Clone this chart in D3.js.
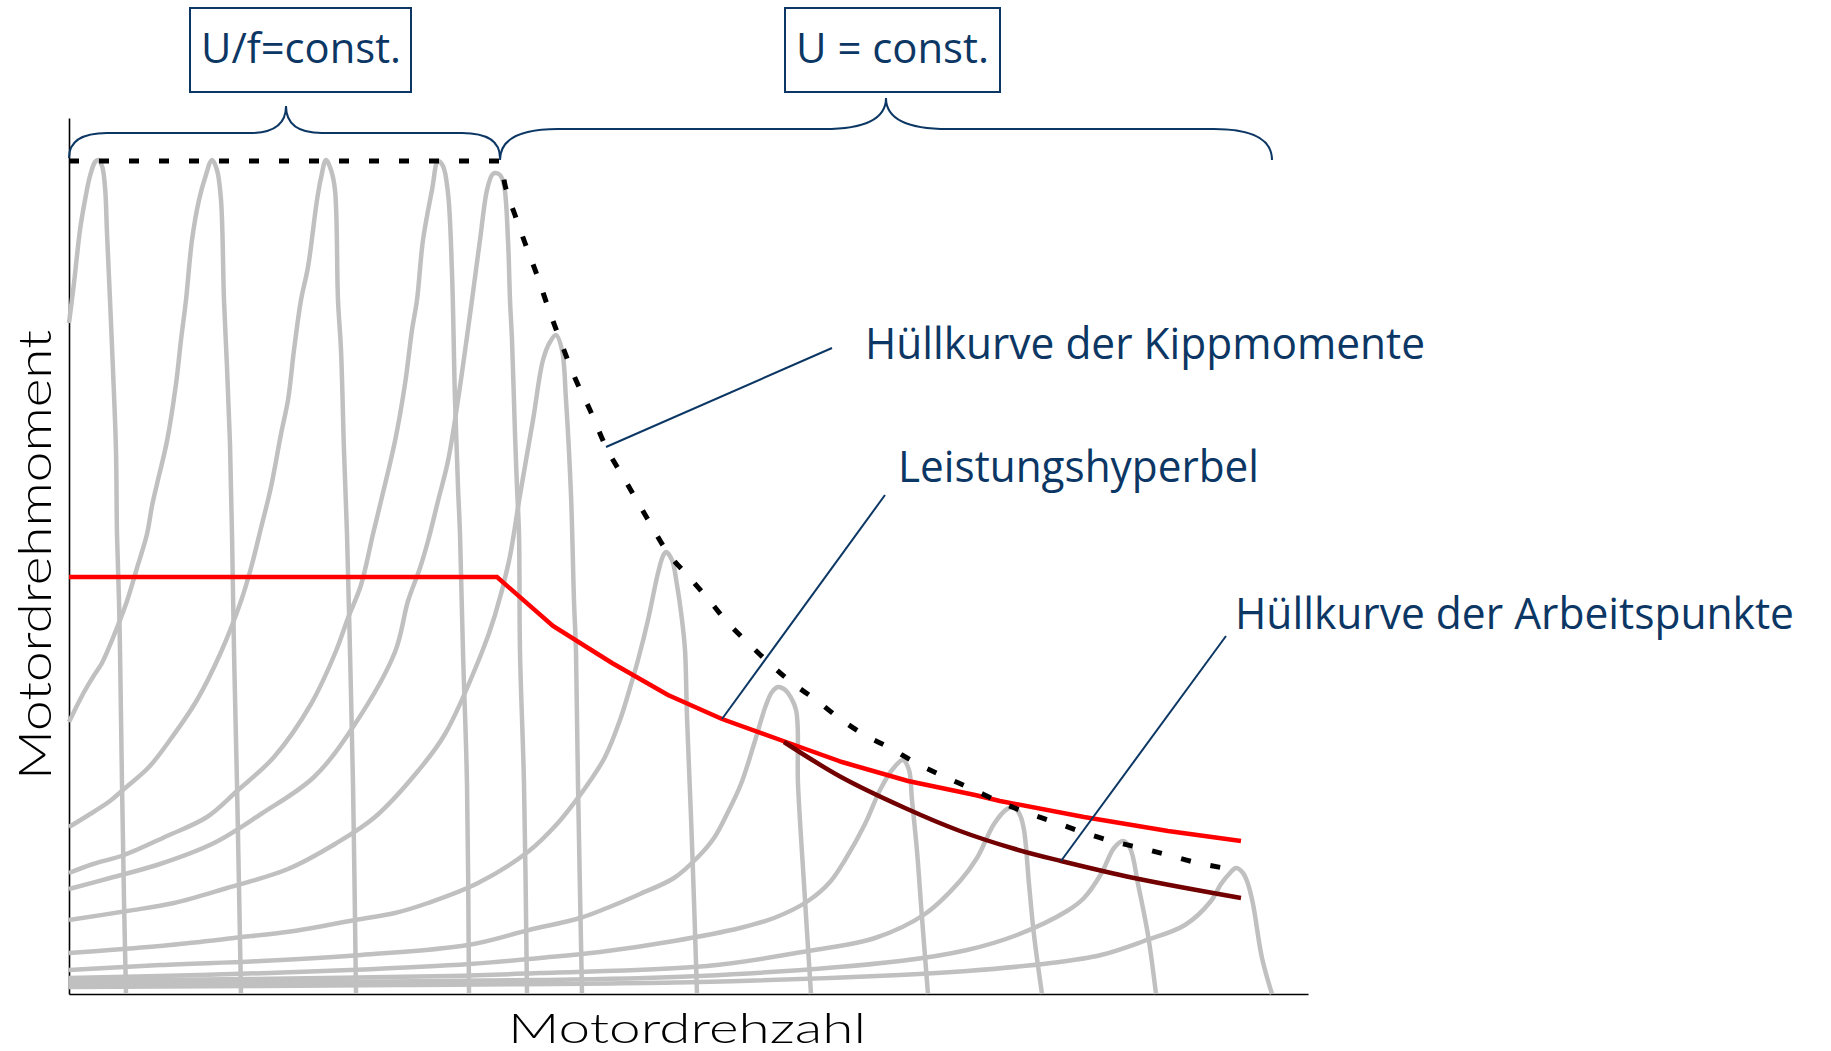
<!DOCTYPE html>
<html>
<head>
<meta charset="utf-8">
<script src="https://cdn.jsdelivr.net/npm/d3@7"></script>
<style>
    html, body { margin: 0; background: #fff; }
    svg { display: block; }
</style>
</head>
<body>
<div id="chart"></div>
<script>
// values: [speed, torque] in arbitrary units (axis = 0..1239 x 0..876)
const torqueCurve1 = [[0,671],[5,711],[11,764],[16,794],[21,818],[26,832],[29,834],[33,828],[36,807],[38,761],[41,694],[44,624],[47,543],[48,460],[50,393],[51,344],[53,210],[55,94],[57,0]];
const torqueCurve2 = [[0,272],[14,300],[24,317],[33,331],[41,349],[51,374],[58,393],[68,426],[78,460],[83,488],[88,510],[98,553],[107,610],[112,654],[117,694],[123,754],[130,794],[136,816],[143,834],[148,824],[152,794],[155,694],[158,627],[161,550],[163,460],[165,344],[168,210],[172,0]];
const torqueCurve3 = [[0,167],[18,178],[41,193],[55,205],[80,227],[101,254],[128,294],[152,342],[172,393],[182,426],[192,466],[202,507],[212,560],[219,594],[225,644],[232,694],[239,727],[248,794],[252,816],[257,834],[262,824],[266,804],[269,694],[272,644],[275,543],[278,460],[281,342],[284,210],[287,0]];
const torqueCurve4 = [[0,121],[24,130],[55,139],[98,158],[138,177],[168,203],[205,237],[242,290],[267,343],[279,376],[292,409],[304,460],[312,493],[326,553],[336,610],[343,664],[348,694],[354,754],[363,804],[369,833],[374,828],[379,801],[383,721],[386,594],[389,507],[391,460],[394,342],[398,210],[400,0]];
const torqueCurve5 = [[0,105],[41,116],[91,130],[145,151],[192,180],[245,217],[286,270],[326,342],[339,393],[351,426],[359,453],[369,493],[379,533],[389,594],[403,694],[411,754],[418,804],[423,819],[426,821],[431,819],[435,809],[439,754],[441,694],[443,654],[446,560],[448,507],[450,460],[451,342],[455,210],[458,0]];
const torqueCurve6 = [[0,74],[58,83],[105,91],[158,106],[219,125],[266,150],[306,177],[349,223],[376,260],[413,342],[426,379],[440,433],[451,499],[464,574],[474,634],[481,652],[487,659],[493,644],[497,594],[502,499],[505,393],[507,342],[509,210],[513,0]];
const torqueCurve7 = [[0,41],[41,44],[101,49],[165,56],[225,63],[286,74],[326,81],[359,91],[409,111],[460,143],[488,170],[505,191],[521,213],[536,237],[551,274],[561,306],[569,334],[579,374],[589,421],[594,438],[597,442],[603,434],[608,409],[613,374],[616,344],[618,277],[622,177],[625,93],[628,0]];
const torqueCurve8 = [[0,24],[91,29],[192,33],[292,39],[399,49],[460,64],[511,76],[538,86],[571,100],[605,116],[628,136],[645,156],[658,180],[672,210],[685,250],[697,289],[703,302],[709,307],[715,305],[719,301],[727,284],[729,210],[735,110],[742,0]];
const torqueCurve9 = [[0,16],[131,19],[281,24],[401,30],[471,36],[531,42],[605,53],[671,66],[705,76],[739,93],[761,112],[776,134],[796,170],[811,204],[823,224],[834,234],[840,224],[843,194],[848,143],[853,76],[859,0]];
const torqueCurve10 = [[0,13],[181,15],[381,18],[471,21],[638,28],[739,43],[806,56],[856,80],[891,113],[908,136],[925,170],[938,185],[945,187],[951,179],[955,164],[960,110],[965,59],[973,0]];
const torqueCurve11 = [[0,10],[231,12],[471,14],[631,18],[831,33],[898,44],[948,59],[998,83],[1015,96],[1032,120],[1045,146],[1054,153],[1061,146],[1069,110],[1079,59],[1087,0]];
const torqueCurve12 = [[0,7],[331,9],[631,12],[831,19],[898,23],[982,31],[1032,39],[1075,53],[1116,69],[1142,93],[1152,110],[1161,121],[1167,126],[1174,121],[1179,110],[1184,90],[1193,36],[1203,0]];
const torqueCurves = [torqueCurve1, torqueCurve2, torqueCurve3, torqueCurve4, torqueCurve5, torqueCurve6,
    torqueCurve7, torqueCurve8, torqueCurve9, torqueCurve10, torqueCurve11, torqueCurve12];

const powerHyperbola = [[0,417],[428,417],[484,368],[543,331],[599,299],[653,275],[717,252],[773,232],[839,213],[906,199],[931,193],[1015,177],[1099,163],[1172,153]];
const operatingEnvelope = [[715,252],[772,217],[836,186],[891,163],[946,145],[992,133],[1065,116],[1172,96]];
const breakdownEnvelope = [[0,833],[431,833],[436,809],[446,779],[456,751],[468,719],[480,684],[493,649],[506,616],[521,584],[537,547],[556,514],[578,476],[599,441],[620,417],[640,394],[658,372],[678,352],[699,332],[722,312],[747,294],[770,276],[794,260],[821,246],[847,231],[874,218],[903,205],[931,192],[956,182],[985,172],[1013,162],[1042,153],[1072,146],[1099,139],[1129,131],[1161,125]];

const regionLabels = ["U/f=const.", "U = const."];
const regionBounds = [[0, 431], [431, 1203]];
const curveLabels = ["Hüllkurve der Kippmomente", "Leistungshyperbel", "Hüllkurve der Arbeitspunkte"];
const curveAnchors = [[537, 547], [653, 275], [992, 133]];
const xTitle = "Motordrehzahl";
const yTitle = "Motordrehmoment";

const width = 1831;
const height = 1051;
const navy = "#0c3764";

const x = d3.scaleLinear().domain([0, 1239]).range([69, 1308]);
const y = d3.scaleLinear().domain([0, 876]).range([994, 118]);

const svg = d3.select("#chart")
    .append("svg")
    .attr("width", width)
    .attr("height", height)
    .style("background", "#fff");

// axes, no ticks
svg.append("g")
    .attr("transform", `translate(0,${y(0)})`)
    .call(d3.axisBottom(x).tickValues([]).tickSizeOuter(0))
    .select(".domain").attr("stroke", "#000").attr("stroke-width", 1.6);

svg.append("g")
    .attr("transform", `translate(${x(0)},0)`)
    .call(d3.axisLeft(y).tickValues([]).tickSizeOuter(0))
    .select(".domain").attr("stroke", "#000").attr("stroke-width", 1.6);

const smooth = d3.line()
    .x(d => x(d[0]))
    .y(d => y(d[1]))
    .curve(d3.curveCatmullRom.alpha(0.5));

const straight = d3.line()
    .x(d => x(d[0]))
    .y(d => y(d[1]));

const monotone = d3.line()
    .x(d => x(d[0]))
    .y(d => y(d[1]))
    .curve(d3.curveMonotoneX);

svg.append("g")
    .selectAll("path")
    .data(torqueCurves)
    .enter().append("path")
    .attr("d", smooth)
    .attr("fill", "none")
    .attr("stroke", "#c0c0c0")
    .attr("stroke-width", 4.5)
    .attr("stroke-linejoin", "round");

svg.append("path")
    .attr("d", straight(powerHyperbola))
    .attr("fill", "none")
    .attr("stroke", "#ff0000")
    .attr("stroke-width", 4.5);

svg.append("path")
    .attr("d", smooth(operatingEnvelope))
    .attr("fill", "none")
    .attr("stroke", "#720000")
    .attr("stroke-width", 4.5);

svg.append("path")
    .attr("d", monotone(breakdownEnvelope))
    .attr("fill", "none")
    .attr("stroke", "#000")
    .attr("stroke-width", 5)
    .attr("stroke-dasharray", "10 20");

// curly braces over the two regions
const braceShape = [
    { yEnd: 158, yFlat: 133, yTip: 106, rEnd: 38, rTip: 36, tip: 286 },
    { yEnd: 160, yFlat: 129, yTip: 98, rEnd: 58, rTip: 62, tip: 886 }
];
const bracePath = (b, s) => {
    const x1 = x(b[0]), x2 = x(b[1]);
    return `M${x1},${s.yEnd} Q${x1},${s.yFlat} ${x1 + s.rEnd},${s.yFlat}` +
        ` L${s.tip - s.rTip},${s.yFlat} Q${s.tip},${s.yFlat} ${s.tip},${s.yTip}` +
        ` Q${s.tip},${s.yFlat} ${s.tip + s.rTip},${s.yFlat}` +
        ` L${x2 - s.rEnd},${s.yFlat} Q${x2},${s.yFlat} ${x2},${s.yEnd}`;
};

svg.append("g")
    .selectAll("path")
    .data(regionBounds)
    .enter().append("path")
    .attr("d", (d, i) => bracePath(d, braceShape[i]))
    .attr("fill", "none")
    .attr("stroke", navy)
    .attr("stroke-width", 2);

const boxes = [
    { x: 190, w: 221, tx: 201, len: 200 },
    { x: 785, w: 215, tx: 796, len: 193 }
];
const boxG = svg.append("g");
boxG.selectAll("rect")
    .data(boxes)
    .enter().append("rect")
    .attr("x", d => d.x)
    .attr("y", 8)
    .attr("width", d => d.w)
    .attr("height", 84)
    .attr("fill", "#fff")
    .attr("stroke", navy)
    .attr("stroke-width", 2);

boxG.selectAll("text")
    .data(regionLabels)
    .enter().append("text")
    .attr("x", (d, i) => boxes[i].tx)
    .attr("y", 63)
    .attr("textLength", (d, i) => boxes[i].len)
    .attr("lengthAdjust", "spacingAndGlyphs")
    .style("font-family", "'Open Sans', 'Noto Sans', sans-serif")
    .style("font-size", "42px")
    .attr("fill", navy)
    .text(d => d);

// callouts
const callouts = [
    { lx: 832, ly: 348, tx: 865, ty: 359, len: 560 },
    { lx: 885, ly: 495, tx: 898, ty: 482, len: 361 },
    { lx: 1226, ly: 636, tx: 1235, ty: 629, len: 559 }
];
const callG = svg.append("g");
callG.selectAll("line")
    .data(curveAnchors)
    .enter().append("line")
    .attr("x1", d => x(d[0]))
    .attr("y1", d => y(d[1]))
    .attr("x2", (d, i) => callouts[i].lx)
    .attr("y2", (d, i) => callouts[i].ly)
    .attr("stroke", navy)
    .attr("stroke-width", 2);

callG.selectAll("text")
    .data(curveLabels)
    .enter().append("text")
    .attr("x", (d, i) => callouts[i].tx)
    .attr("y", (d, i) => callouts[i].ty)
    .attr("textLength", (d, i) => callouts[i].len)
    .attr("lengthAdjust", "spacingAndGlyphs")
    .style("font-family", "'Open Sans', 'Noto Sans', sans-serif")
    .style("font-size", "43px")
    .attr("fill", navy)
    .text(d => d);

// axis titles
svg.append("text")
    .attr("x", 687)
    .attr("y", 1043)
    .attr("text-anchor", "middle")
    .attr("textLength", 358)
    .attr("lengthAdjust", "spacingAndGlyphs")
    .style("font-family", "Lato, 'DejaVu Sans', sans-serif")
    .style("font-weight", 300)
    .style("font-size", "42px")
    .attr("fill", "#000")
    .text(xTitle);

svg.append("text")
    .attr("transform", "translate(51,555) rotate(-90)")
    .attr("text-anchor", "middle")
    .attr("textLength", 450)
    .attr("lengthAdjust", "spacingAndGlyphs")
    .style("font-family", "Lato, 'DejaVu Sans', sans-serif")
    .style("font-weight", 300)
    .style("font-size", "45px")
    .attr("fill", "#000")
    .text(yTitle);
</script>
</body>
</html>
